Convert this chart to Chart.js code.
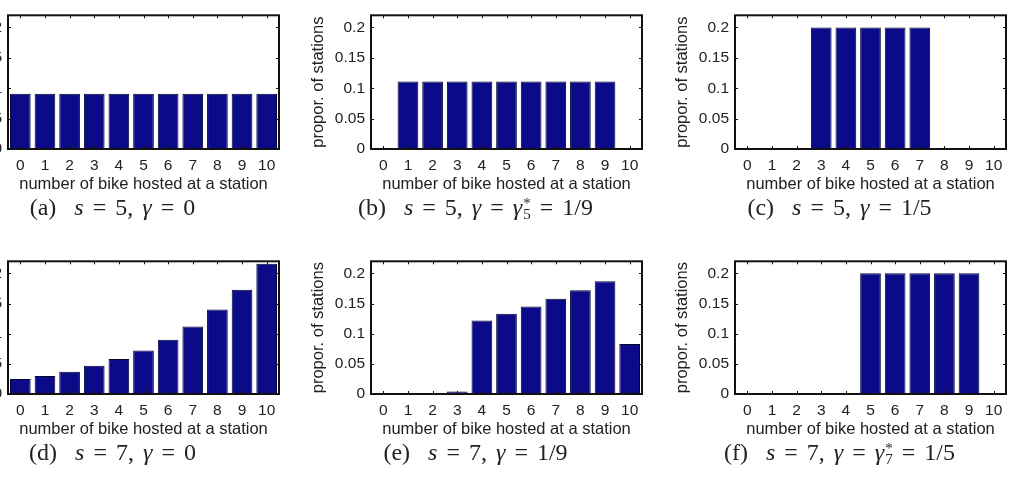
<!DOCTYPE html>
<html>
<head>
<meta charset="utf-8">
<script src="https://cdn.jsdelivr.net/npm/chart.js@4.4.1/dist/chart.umd.min.js"></script>
<style>
  body { margin: 0; background: #fff; width: 1012px; height: 477px; overflow: hidden; position: relative; }
  .panel { position: absolute; }
  .panel canvas { position: absolute; left: 0; top: 0; }
  .cap { position: absolute; left: 0; width: 100%; text-align: center; white-space: nowrap;
         font-family: "Liberation Serif", "DejaVu Serif", serif; font-size: 24px; word-spacing: 3px; color: #222; }
  .cap i { font-style: italic; }
  .ss { display: inline-block; vertical-align: middle; line-height: 0.75; font-size: 15px; text-align: left; margin-left: 1px; word-spacing: 0; }
  .ss span { display: block; }
</style>
</head>
<body>

<script>
// bike count categories on x
const bikeCounts = ['0', '1', '2', '3', '4', '5', '6', '7', '8', '9', '10'];
const yTicks = [0, 0.05, 0.1, 0.15, 0.2];
const yMax = 0.22;

// proportion of stations
const propA = [0.091, 0.091, 0.091, 0.091, 0.091, 0.091, 0.091, 0.091, 0.091, 0.091, 0.091];
const propB = [0, 0.111, 0.111, 0.111, 0.111, 0.111, 0.111, 0.111, 0.111, 0.111, 0];
const propC = [0, 0, 0, 0.2, 0.2, 0.2, 0.2, 0.2, 0, 0, 0];
const propD = [0.025, 0.030, 0.037, 0.047, 0.058, 0.072, 0.090, 0.112, 0.140, 0.173, 0.216];
const propE = [0, 0, 0, 0.004, 0.122, 0.133, 0.145, 0.158, 0.172, 0.187, 0.083];
const propF = [0, 0, 0, 0, 0, 0.2, 0.2, 0.2, 0.2, 0.2, 0];

const captions = [
  '(a)&nbsp; <i>s</i> = 5, <i>γ</i> = 0',
  '(b)&nbsp; <i>s</i> = 5, <i>γ</i> = <i>γ</i><span class="ss"><span>*</span><span>5</span></span> = 1/9',
  '(c)&nbsp; <i>s</i> = 5, <i>γ</i> = 1/5',
  '(d)&nbsp; <i>s</i> = 7, <i>γ</i> = 0',
  '(e)&nbsp; <i>s</i> = 7, <i>γ</i> = 1/9',
  '(f)&nbsp; <i>s</i> = 7, <i>γ</i> = <i>γ</i><span class="ss"><span>*</span><span>7</span></span> = 1/5'
];

const panels = [
  { data: propA, left: -54, top: 0,   plotH: 141, capY: 194 },
  { data: propB, left: 309, top: 0,   plotH: 141, capY: 194 },
  { data: propC, left: 673, top: 0,   plotH: 141, capY: 194 },
  { data: propD, left: -54, top: 246, plotH: 140, capY: 193 },
  { data: propE, left: 309, top: 246, plotH: 140, capY: 193 },
  { data: propF, left: 673, top: 246, plotH: 140, capY: 193 }
];

const axisFont = { family: '"Liberation Sans", Arial, sans-serif', size: 15.5 };
const titleFont = { family: '"Liberation Sans", Arial, sans-serif', size: 16.5 };

// matlab style box with inward ticks
const boxPlugin = {
  id: 'box',
  afterDraw(chart) {
    const ctx = chart.ctx;
    const a = chart.chartArea;
    const xs = chart.scales.x, ys = chart.scales.y;
    ctx.save();
    ctx.strokeStyle = '#111';
    ctx.lineWidth = 1;
    for (let i = 0; i < xs.ticks.length; i++) {
      let px = Math.round(xs.getPixelForTick(i)) + 0.5;
      ctx.beginPath();
      ctx.moveTo(px, a.bottom); ctx.lineTo(px, a.bottom - 3);
      ctx.moveTo(px, a.top); ctx.lineTo(px, a.top + 3);
      ctx.stroke();
    }
    for (let i = 0; i < ys.ticks.length; i++) {
      let py = Math.round(ys.getPixelForTick(i)) + 0.5;
      ctx.beginPath();
      ctx.moveTo(a.left, py); ctx.lineTo(a.left + 3, py);
      ctx.moveTo(a.right, py); ctx.lineTo(a.right - 3, py);
      ctx.stroke();
    }
    ctx.lineWidth = 2;
    ctx.strokeRect(a.left, a.top, a.right - a.left, a.bottom - a.top);
    ctx.restore();
  }
};

for (let i = 0; i < panels.length; i++) {
  const p = panels[i];
  const w = 62 + 271 + 4;
  const h = 8 + p.plotH + 47;

  let div = document.createElement('div');
  div.className = 'panel';
  div.style.left = p.left + 'px';
  div.style.top = p.top + 'px';
  div.style.width = (62 + 271) + 'px';
  div.style.height = (h + 30) + 'px';
  div.innerHTML = '<canvas id="c' + i + '" width="' + w + '" height="' + h + '" style="width:' + w + 'px;height:' + h + 'px"></canvas>' +
    '<div class="cap" style="top:' + p.capY + 'px">' + captions[i] + '</div>';
  document.body.appendChild(div);

  new Chart('c' + i, {
    type: 'bar',
    data: {
      labels: bikeCounts,
      datasets: [{
        data: p.data,
        backgroundColor: '#0b0b8a',
        borderColor: '#050530',
        borderWidth: 1,
        barPercentage: 0.84,
        categoryPercentage: 1
      }]
    },
    options: {
      responsive: false,
      animation: false,
      layout: { padding: { top: 8, right: 4, left: 0, bottom: 0 } },
      plugins: { legend: { display: false }, tooltip: { enabled: false } },
      scales: {
        x: {
          offset: true,
          grid: { display: false, drawTicks: false },
          border: { display: false },
          ticks: { color: '#222', font: axisFont, padding: 7, maxRotation: 0, autoSkip: false },
          title: { display: true, text: 'number of bike hosted at a station', color: '#222', font: titleFont, padding: { top: 0, bottom: 2 } },
          afterFit(s) { s.height = 47; }
        },
        y: {
          min: 0,
          max: yMax,
          afterBuildTicks(s) { s.ticks = yTicks.map(v => ({ value: v })); },
          grid: { display: false, drawTicks: false },
          border: { display: false },
          ticks: { color: '#222', font: axisFont, padding: 6, callback: v => String(v) },
          title: { display: true, text: 'propor. of stations', color: '#222', font: titleFont, padding: 0 },
          afterFit(s) { s.width = 62; }
        }
      }
    },
    plugins: [boxPlugin]
  });
}
</script>
</body>
</html>
